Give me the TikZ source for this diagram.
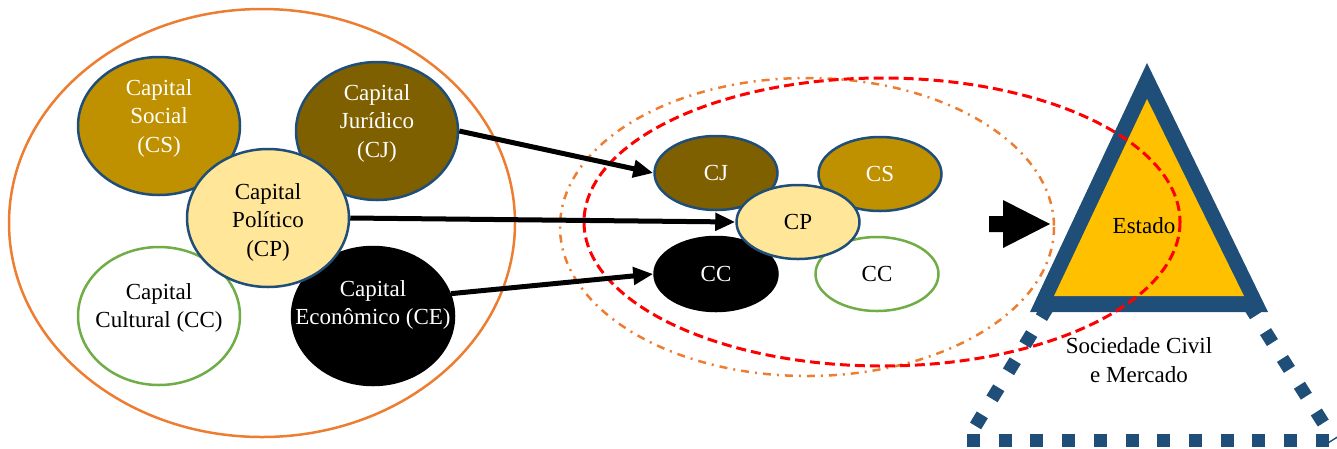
\documentclass[tikz,border=0pt]{standalone}
\usepackage{fontspec}
\setmainfont{Liberation Serif}
\usetikzlibrary{shapes.geometric,arrows.meta}
\definecolor{bblue}{HTML}{1F4E79}
\definecolor{gold}{HTML}{BF9000}
\definecolor{brownj}{HTML}{7F6000}
\definecolor{paleyel}{HTML}{FFE699}
\definecolor{gyellow}{HTML}{FFC000}
\definecolor{ggreen}{HTML}{70AD47}
\definecolor{orng}{HTML}{ED7D31}
\begin{document}
\begin{tikzpicture}[x=1pt,y=-1pt,
  font=\fontsize{23}{28.5}\selectfont,
  ellbase/.style={ellipse, line width=2.5pt, inner sep=0pt},
  bigell/.style={ellbase, minimum width=162pt, minimum height=138pt},
  smallell/.style={ellbase, minimum width=123pt, minimum height=74pt},
  blueb/.style={draw=bblue},
  greenb/.style={draw=ggreen, fill=white},
  conn/.style={line width=5pt, -{Triangle[length=20pt,width=17pt]}},
  dotline/.style={bblue, line width=13pt, dash pattern=on 13pt off 18.7pt},
  txt/.style={align=center}
]
\useasboundingbox (0,0) rectangle (1337,448);

% outer orange ellipse
\draw[orng, line width=2.5pt] (262,223) ellipse [x radius=253, y radius=214];

% big capitals
\node[bigell, blueb, fill=gold, label={[txt,text=white,yshift=8pt]center:{Capital\\Social\\(CS)}}] (CS) at (159,126) {};
\node[bigell, blueb, fill=brownj, label={[txt,text=white,yshift=8pt]center:{Capital\\Jurídico\\(CJ)}}] (CJ) at (377,131) {};
\node[bigell, greenb, label={[txt,yshift=8pt]center:{Capital\\Cultural (CC)}}] (CC) at (159,316) {};
\node[bigell, draw=black, fill=black, label={[txt,text=white,yshift=11pt]center:{Capital\\Econômico (CE)}}] (CE) at (373,316) {};
\node[bigell, blueb, fill=paleyel, label={[txt,yshift=-4pt]center:{Capital\\Político\\(CP)}}] (CP) at (268,218) {};

% dotted big triangle
\coordinate (TA) at (1147,144);
\coordinate (TL) at (967,440);
\coordinate (TR) at (1334,440);
\draw[dotline] (TL) -- (TR);
\draw[dotline] (TA) -- (TL);
\draw[dotline] (TA) -- (TR);

% orange dash-dot ellipse
\draw[orng, line width=2.5pt, dash pattern=on 8pt off 6pt on 2pt off 6pt] (807,227) ellipse [x radius=247, y radius=149];

% small triangle (Estado)
\fill[bblue] (1147,63) -- (1030,312) -- (1268,312) -- cycle;
\fill[gyellow] (1147,99) -- (1054,296) -- (1244,296) -- cycle;
\node (estado) at (1144,226) {Estado};

% small capitals
\node[smallell, blueb, fill=brownj, text=white] (sCJ) at (716,173) {CJ};
\node[smallell, blueb, fill=gold, text=white] (sCS) at (880,174) {CS};
\node[smallell, draw=black, fill=black, text=white] (sCE) at (716,274) {CC};
\node[smallell, greenb] (sCC) at (877,274) {CC};
\node[smallell, blueb, fill=paleyel] (sCP) at (798,222) {CP};

% red dashed ellipse
\draw[red, line width=3pt, dash pattern=on 10pt off 5pt] (882,222) ellipse [x radius=298, y radius=144];

% block arrow
\fill[black] (989,216) -- (1003,216) -- (1003,200) -- (1050,224) -- (1003,248) -- (1003,232) -- (989,232) -- cycle;

% society label
\node[txt] (soc) at (1139,360) {Sociedade Civil\\e Mercado};

% connectors
\draw[conn] (CJ.east) -- (sCJ.west);
\draw[conn] (CP.east) -- (sCP.west);
\draw[conn] (CE.16) -- (sCE.west);
\end{tikzpicture}
\end{document}
